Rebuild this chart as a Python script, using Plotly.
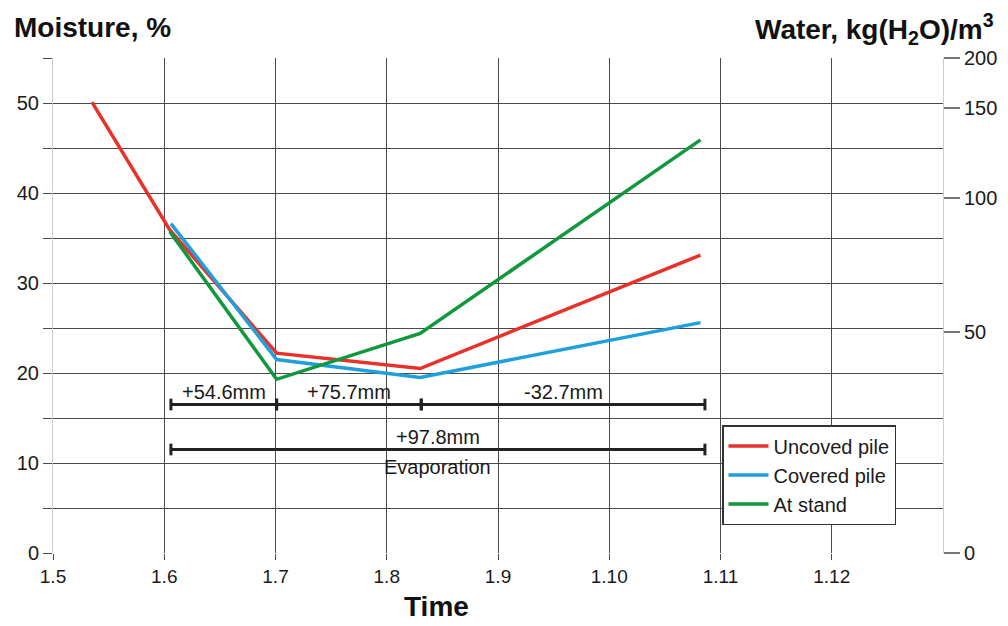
import plotly.graph_objects as go

# ---- data ----
date_labels = ["1.5", "1.6", "1.7", "1.8", "1.9", "1.10", "1.11", "1.12"]
date_pos = [0, 1, 2, 3, 4, 5, 6, 7]

uncovered_x = [0.35, 1.05, 2.01, 3.30, 5.82]
uncovered_y = [50.1, 35.9, 22.2, 20.5, 33.1]
covered_x = [1.06, 2.01, 3.30, 5.82]
covered_y = [36.6, 21.5, 19.5, 25.6]
stand_x = [1.05, 2.01, 3.30, 5.82]
stand_y = [35.7, 19.3, 24.4, 45.9]

water_ticks = ["0", "50", "100", "150", "200"]
water_pos = [0, 24.6, 39.4, 49.5, 55]

# brackets: start, end, level, label
bracket_start = [1.06, 2.01, 3.31, 1.06]
bracket_end = [2.01, 3.31, 5.86, 5.86]
bracket_level = [16.5, 16.5, 16.5, 11.5]
bracket_label = ["+54.6mm", "+75.7mm", "-32.7mm", "+97.8mm"]

RED = "#e8312a"
BLUE = "#1ea0dc"
GREEN = "#10983c"
GRID = "#4a4a4a"
TXT = "#1a1a1a"
FONT = "Liberation Sans, Arial, sans-serif"

# page has an 8px body margin: figure coords = screen coords - 8
OFF = 8
W, H = 1000, 618
PL, PR, PT, PB = 53 - OFF, 943 - OFF, 58 - OFF, 553 - OFF


def px_to_paper(x, y):
    x -= OFF
    y -= OFF
    return (x - PL) / (PR - PL), (PB - y) / (PB - PT)


fig = go.Figure()
fig.add_trace(go.Scatter(x=uncovered_x, y=uncovered_y, mode="lines", name="Uncoved pile",
                         line=dict(color=RED, width=3.5)))
fig.add_trace(go.Scatter(x=covered_x, y=covered_y, mode="lines", name="Covered pile",
                         line=dict(color=BLUE, width=3.5)))
fig.add_trace(go.Scatter(x=stand_x, y=stand_y, mode="lines", name="At stand",
                         line=dict(color=GREEN, width=3.5)))
fig.add_trace(go.Scatter(x=[0], y=[0], yaxis="y2", mode="markers",
                         marker=dict(opacity=0), showlegend=False, hoverinfo="skip"))

shapes = []
for s, e, lv, lab in zip(bracket_start, bracket_end, bracket_level, bracket_label):
    shapes.append(dict(type="line", x0=s, x1=e, y0=lv, y1=lv, xref="x", yref="y",
                       line=dict(color="#222", width=3), layer="above"))
    for xx in (s, e):
        shapes.append(dict(type="line", x0=xx, x1=xx, y0=lv - 0.65, y1=lv + 0.65,
                           xref="x", yref="y", line=dict(color="#222", width=3), layer="above"))
    fig.add_annotation(x=(s + e) / 2, y=lv, xref="x", yref="y", text=lab,
                       showarrow=False, yanchor="bottom", yshift=0,
                       font=dict(size=20, color=TXT, family=FONT))
fig.add_annotation(x=(bracket_start[3] + bracket_end[3]) / 2, y=bracket_level[3],
                   xref="x", yref="y", text="Evaporation", showarrow=False,
                   yanchor="top", yshift=-4, font=dict(size=20, color=TXT, family=FONT))

mx, my = px_to_paper(12, 27)
fig.add_annotation(x=mx, y=my, xref="paper", yref="paper", xanchor="left", yanchor="middle",
                   text="<b>Moisture, %</b>", showarrow=False,
                   font=dict(size=28, family=FONT, color="#111"))
wx, wy = px_to_paper(996, 29)
fig.add_annotation(x=wx, y=wy, xref="paper", yref="paper", xanchor="right", yanchor="middle",
                   text="<b>Water, kg(H<sub>2</sub>O)/m<sup>3</sup></b>", showarrow=False,
                   font=dict(size=28, family=FONT, color="#111"))
tx, ty = px_to_paper(436, 606)
fig.add_annotation(x=tx, y=ty, xref="paper", yref="paper", xanchor="center", yanchor="middle",
                   text="<b>Time</b>", showarrow=False,
                   font=dict(size=28, family=FONT, color="#111"))

lx, ly = px_to_paper(722, 425)
fig.update_layout(
    width=W, height=H,
    margin=dict(l=PL, r=W - PR, t=PT, b=H - PB, autoexpand=False),
    paper_bgcolor="white", plot_bgcolor="white",
    font=dict(family=FONT, size=20, color=TXT),
    xaxis=dict(range=[0, 8], tickmode="array", tickvals=date_pos, ticktext=date_labels,
               showgrid=True, gridcolor=GRID, gridwidth=1,
               ticks="outside", ticklen=6, tickcolor=GRID,
               showline=False, zeroline=False, tickfont=dict(size=19), automargin=False),
    yaxis=dict(range=[0, 55], tickmode="linear", tick0=0, dtick=10,
               showgrid=True, gridcolor=GRID, gridwidth=1,
               ticks="outside", ticklen=9, tickcolor=GRID,
               minor=dict(tick0=0, dtick=5, showgrid=True, gridcolor=GRID, gridwidth=1,
                          ticks="outside", ticklen=9, tickcolor=GRID),
               showline=True, linecolor="#cccccc", linewidth=1, zeroline=False,
               tickfont=dict(size=20), automargin=False),
    yaxis2=dict(range=[0, 55], overlaying="y", side="right", tickmode="array",
                tickvals=water_pos, ticktext=water_ticks, showgrid=False,
                ticks="outside", ticklen=16, tickcolor="#777", tickwidth=1.5,
                showline=True, linecolor="#cccccc", linewidth=1, zeroline=False,
                tickfont=dict(size=20), automargin=False),
    legend=dict(x=lx, y=ly, xanchor="left", yanchor="top",
                bordercolor="#333", borderwidth=1.5, bgcolor="white",
                font=dict(size=20, family=FONT, color=TXT), tracegroupgap=0,
                itemwidth=40),
    shapes=shapes,
    showlegend=True,
)

fig.write_html("out.html")
